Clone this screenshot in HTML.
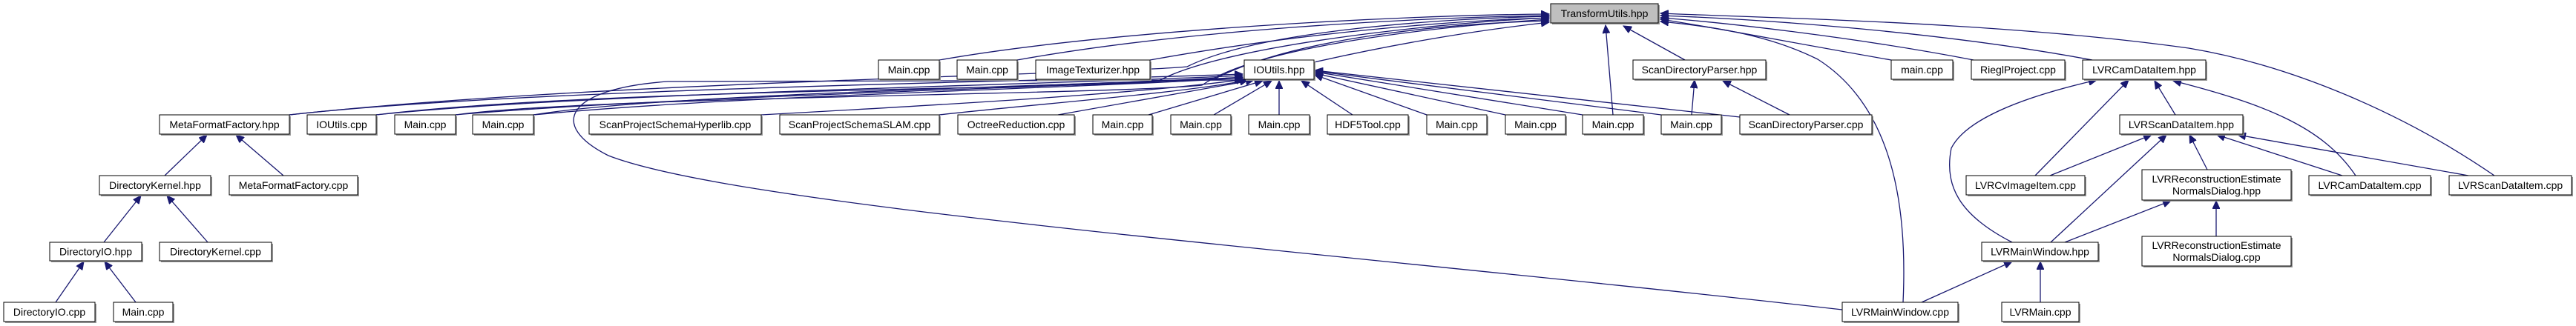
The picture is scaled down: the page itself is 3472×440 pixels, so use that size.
<!DOCTYPE html>
<html><head><meta charset="utf-8"><style>
html,body{margin:0;padding:0;background:#fff;}
svg{display:block;}
text{font-family:"Liberation Sans",sans-serif;font-size:14px;fill:#000;}
.e{fill:none;stroke:#191970;stroke-width:1.3;}
.b{fill:#fff;stroke:#000;stroke-width:1;}
.s{fill:none;stroke:#999;stroke-width:2;}
</style></head><body>
<svg width="3472" height="440" viewBox="0 0 3472 440" xmlns="http://www.w3.org/2000/svg">
<defs>
<marker id="a" markerUnits="userSpaceOnUse" markerWidth="12" markerHeight="10" refX="11" refY="5" orient="auto">
<path d="M0,0 L11,5 L0,10 z" fill="#191970" stroke="#191970"/>
</marker>
</defs>
<g marker-end="url(#a)">
<!-- to TransformUtils -->
<path class="e" d="M1266,81 C1500,40 1900,20 2088,19"/>
<path class="e" d="M1371,81 C1600,40 1900,24 2088,21"/>
<path class="e" d="M1550,81 C1750,45 1950,28 2088,24"/>
<path class="e" d="M1771,84 C1900,55 2000,40 2088,30"/>
<path class="e" d="M390,155 C800,110 1500,100 1600,90 C1700,40 1950,25 2088,22"/>
<path class="e" d="M507,155 C800,120 1450,120 1560,110 C1650,60 1950,30 2088,24"/>
<path class="e" d="M614,155 C800,130 1500,128 1620,115 C1700,60 1950,35 2088,26"/>
<path class="e" d="M719,155 C900,125 1500,115 1640,105 C1750,50 1950,32 2088,28"/>
<path class="e" d="M2174,155 L2164,34"/>
<path class="e" d="M2271,81 L2188,35"/>
<path class="e" d="M2549,81 C2400,55 2300,35 2238,26"/>
<path class="e" d="M2660,81 C2500,50 2320,30 2238,24"/>
<path class="e" d="M2820,81 C2600,40 2350,25 2238,21"/>
<path class="e" d="M3362,237 C3250,160 3100,90 2950,65 C2700,30 2400,25 2238,18"/>
<path class="e" d="M2565,408 C2570,300 2560,150 2450,80 C2380,45 2300,35 2238,29"/>
<!-- to IOUtils.hpp -->
<path class="e" d="M390,155 C700,120 1400,110 1675,100"/>
<path class="e" d="M507,155 C800,125 1400,115 1675,102"/>
<path class="e" d="M614,155 C900,130 1450,118 1675,104"/>
<path class="e" d="M719,155 C1000,128 1450,120 1675,105"/>
<path class="e" d="M1026,155 C1300,140 1550,125 1677,107"/>
<path class="e" d="M1266,155 C1400,140 1600,125 1682,108"/>
<path class="e" d="M2483,418 C1800,340 1000,280 820,210 C740,170 760,120 900,110 C1200,108 1500,108 1675,108"/>
<path class="e" d="M1426,155 L1690,108"/>
<path class="e" d="M1548,155 L1702,109"/>
<path class="e" d="M1636,155 L1714,109"/>
<path class="e" d="M1724,155 L1724,109"/>
<path class="e" d="M1823,155 L1754,109"/>
<path class="e" d="M1923,155 L1772,101"/>
<path class="e" d="M2029,155 L1772,99"/>
<path class="e" d="M2133,155 L1772,97"/>
<path class="e" d="M2239,155 L1772,96"/>
<path class="e" d="M2345,158 L1772,95"/>
<!-- ScanDirectoryParser.hpp -->
<path class="e" d="M2280,155 L2284,108"/>
<path class="e" d="M2412,155 L2322,109"/>
<!-- LVRCamDataItem.hpp -->
<path class="e" d="M2743,237 L2869,108"/>
<path class="e" d="M2932,155 L2904,109"/>
<path class="e" d="M3175,237 C3130,170 3050,140 2929,109"/>
<path class="e" d="M2712,327 C2640,290 2620,250 2630,200 C2650,160 2730,130 2826,108"/>
<!-- LVRScanDataItem.hpp -->
<path class="e" d="M2763,237 L2900,182"/>
<path class="e" d="M2764,327 L2920,182"/>
<path class="e" d="M2975,229 L2951,182"/>
<path class="e" d="M3157,237 L2988,182"/>
<path class="e" d="M3327,237 L3016,182"/>
<!-- LVRRecon hpp -->
<path class="e" d="M2783,327 L2926,271"/>
<path class="e" d="M2987,319 L2987,271"/>
<!-- LVRMainWindow.hpp -->
<path class="e" d="M2590,408 L2712,353"/>
<path class="e" d="M2750,408 L2750,353"/>
<!-- left tree -->
<path class="e" d="M222,237 L279,182"/>
<path class="e" d="M382,237 L318,182"/>
<path class="e" d="M140,327 L190,264"/>
<path class="e" d="M280,327 L225,264"/>
<path class="e" d="M75,408 L113,353"/>
<path class="e" d="M183,408 L141,353"/>
</g>
<g id="nodes"></g>
</svg>
<script>
var N=[
["TransformUtils.hpp",2090,5,2235,31,1],
["Main.cpp",1184,81,1266,107],["Main.cpp",1290,81,1371,107],["ImageTexturizer.hpp",1396,81,1550,107],["IOUtils.hpp",1677,81,1771,107],["ScanDirectoryParser.hpp",2201,81,2380,107],["main.cpp",2549,81,2632,107],["RieglProject.cpp",2657,81,2783,107],["LVRCamDataItem.hpp",2807,81,2973,107],
["MetaFormatFactory.hpp",215,155,390,181],["IOUtils.cpp",414,155,507,181],["Main.cpp",532,155,614,181],["Main.cpp",637,155,719,181],["ScanProjectSchemaHyperlib.cpp",794,155,1026,181],["ScanProjectSchemaSLAM.cpp",1051,155,1266,181],["OctreeReduction.cpp",1291,155,1448,181],["Main.cpp",1473,155,1553,181],["Main.cpp",1578,155,1659,181],["Main.cpp",1683,155,1765,181],["HDF5Tool.cpp",1789,155,1898,181],["Main.cpp",1923,155,2004,181],["Main.cpp",2029,155,2110,181],["Main.cpp",2133,155,2215,181],["Main.cpp",2239,155,2320,181],["ScanDirectoryParser.cpp",2345,155,2523,181],["LVRScanDataItem.hpp",2857,155,3023,181],
["DirectoryKernel.hpp",134,237,284,263],["MetaFormatFactory.cpp",309,237,482,263],["LVRCvImageItem.cpp",2650,237,2810,263],["LVRReconstructionEstimate|NormalsDialog.hpp",2887,229,3088,270],["LVRCamDataItem.cpp",3112,237,3276,263],["LVRScanDataItem.cpp",3301,237,3466,263],
["DirectoryIO.hpp",67,327,191,352],["DirectoryKernel.cpp",215,327,366,352],["LVRMainWindow.hpp",2671,327,2828,352],["LVRReconstructionEstimate|NormalsDialog.cpp",2887,319,3088,359],
["DirectoryIO.cpp",5,408,128,434],["Main.cpp",153,408,233,434],["LVRMainWindow.cpp",2483,408,2639,434],["LVRMain.cpp",2698,408,2802,434]
];
var g=document.getElementById('nodes'),h='';
N.forEach(function(n){
var x=n[1],y=n[2],w=n[3]-n[1],hh=n[4]-n[2],cx=x+w/2;
h+='<polyline class="s" points="'+(x+2)+','+(y+hh+1)+' '+(x+w+1)+','+(y+hh+1)+' '+(x+w+1)+','+(y+2)+'"/>';
h+='<rect class="b" x="'+x+'" y="'+y+'" width="'+w+'" height="'+hh+'"'+(n[5]?' style="fill:#bfbfbf"':'')+'/>';
var L=n[0].split('|');
if(L.length==1)h+='<text x="'+cx+'" y="'+(y+hh/2+5)+'" text-anchor="middle">'+L[0]+'</text>';
else{h+='<text x="'+cx+'" y="'+(y+hh/2-3)+'" text-anchor="middle">'+L[0]+'</text><text x="'+cx+'" y="'+(y+hh/2+13)+'" text-anchor="middle">'+L[1]+'</text>';}
});
g.innerHTML=h;
</script>
</body></html>
